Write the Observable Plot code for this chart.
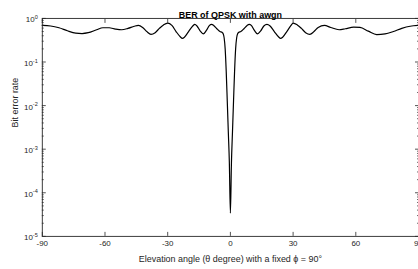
<!DOCTYPE html>
<html><head><meta charset="utf-8">
<script src="https://cdn.jsdelivr.net/npm/d3@7"></script>
<script src="https://cdn.jsdelivr.net/npm/@observablehq/plot@0.6"></script>
<style>html,body{margin:0;padding:0;overflow:hidden;background:#fff}</style>
</head><body><div id="chart"></div>
<script>
const title = "BER of QPSK with awgn";
const xLabel = "Elevation angle (θ degree) with a fixed ϕ = 90°";
const yLabel = "Bit error rate";
const xTicks = [-90, -60, -30, 0, 30, 60, 90];
const xTickLabels = ["-90", "-60", "-30", "0", "30", "60", "90"];
const yTicks = [1e-5, 1e-4, 1e-3, 1e-2, 1e-1, 1];
const yTickLabels = ["10^-5", "10^-4", "10^-3", "10^-2", "10^-1", "10^0"];

const theta = [
  -90, -86, -82, -78, -74, -71, -68, -64, -61, -58, -55, -52, -49, -46, -44, -42, -40, -38, -36, -34,
  -32, -30, -28, -26, -24, -23, -22, -20, -18, -17, -16, -14.5, -13, -11.5, -10, -9, -8, -6.5, -5, -4,
  -3.5, -3, -2.5, -2, -1.5, -1, -0.5, 0,
  0.5, 1, 1.5, 2, 2.5, 3, 3.5, 4, 5, 6.5, 8, 9, 10, 11.5, 13, 14.5, 16, 17.5, 19, 21,
  23, 24, 25, 27, 29, 30, 32, 34, 36, 38, 40, 42, 45, 48, 52, 55, 59, 62, 66, 70, 74, 78, 82, 86, 90
];
const ber = [
  0.69, 0.67, 0.61, 0.52, 0.46, 0.45, 0.47, 0.55, 0.61, 0.61, 0.57, 0.55, 0.59, 0.66, 0.69, 0.62, 0.50, 0.43, 0.47, 0.59,
  0.71, 0.78, 0.69, 0.50, 0.38, 0.35, 0.37, 0.50, 0.67, 0.73, 0.67, 0.52, 0.44, 0.53, 0.69, 0.73, 0.69, 0.58, 0.50, 0.48,
  0.45, 0.36, 0.20, 0.061, 0.0127, 0.0025, 0.00049, 0.000034,
  0.00049, 0.0025, 0.0127, 0.061, 0.20, 0.36, 0.45, 0.48, 0.50, 0.58, 0.69, 0.73, 0.69, 0.53, 0.44, 0.52, 0.67, 0.73, 0.67, 0.50,
  0.38, 0.35, 0.37, 0.50, 0.69, 0.78, 0.71, 0.59, 0.47, 0.43, 0.50, 0.62, 0.69, 0.62, 0.55, 0.58, 0.63, 0.62, 0.51, 0.425, 0.44, 0.50, 0.59, 0.66, 0.69
];

const data = theta.map((t, i) => ({theta: t, ber: ber[i]}));
const yMinor = d3.scaleLog().domain([1e-5, 1]).ticks()
  .filter(v => !yTicks.some(t => Math.abs(v - t) / t < 1e-9));

const ink = "#262626";
const font = "'Liberation Sans', Arial, Helvetica, sans-serif";

const plot = Plot.plot({
  width: 420, height: 269,
  marginLeft: 42, marginRight: 0, marginTop: 18, marginBottom: 32,
  style: {fontFamily: font, fontSize: "8px", color: ink, background: "#fff", overflow: "visible"},
  x: {domain: [-90, 90]},
  y: {type: "log", domain: [1e-5, 1]},
  marks: [
    Plot.line(data, {x: "theta", y: "ber", stroke: "#000", strokeWidth: 1.2, curve: "monotone-x"}),
    // ticks (inward)
    Plot.axisX(xTicks, {anchor: "bottom", tickSize: -4, tickFormat: () => "", label: null, stroke: ink, strokeWidth: 0.8}),
    Plot.axisX(xTicks, {anchor: "top", tickSize: -4, tickFormat: () => "", label: null, stroke: ink, strokeWidth: 0.8}),
    Plot.axisY(yTicks, {anchor: "left", tickSize: -4, tickFormat: () => "", label: null, stroke: ink, strokeWidth: 0.8}),
    Plot.axisY(yMinor, {anchor: "left", tickSize: -2, tickFormat: () => "", label: null, stroke: ink, strokeWidth: 0.7}),
    Plot.axisY(yTicks, {anchor: "right", tickSize: -4, tickFormat: () => "", label: null, stroke: ink, strokeWidth: 0.8}),
    Plot.axisY(yMinor, {anchor: "right", tickSize: -2, tickFormat: () => "", label: null, stroke: ink, strokeWidth: 0.7}),
    Plot.frame({stroke: ink, strokeWidth: 0.9}),
    // tick labels
    Plot.text(xTicks, {x: d => d, text: (d, i) => xTickLabels[i], frameAnchor: "bottom", dy: 9.4, fill: ink, fontSize: 8}),
    Plot.text(yTicks, {y: d => d, text: (d, i) => yTickLabels[i], frameAnchor: "left", dx: -4.5, dy: 1.5, textAnchor: "end", fill: ink, fontSize: 8}),
    // labels and title
    Plot.text([xLabel], {frameAnchor: "bottom", dy: 25.6, fill: ink, fontSize: 9}),
    Plot.text([yLabel], {frameAnchor: "left", dx: -27.6, rotate: -90, fill: ink, fontSize: 9}),
    Plot.text([title], {frameAnchor: "top", dy: -6.9, fill: "#000", fontSize: 9, fontWeight: "bold"})
  ]
});

// superscript exponents for the log tick labels
d3.select(plot).selectAll("text").each(function() {
  const m = /^10\^(.+)$/.exec(this.textContent);
  if (!m) return;
  const t = d3.select(this);
  t.text(null);
  t.append("tspan").text("10");
  t.append("tspan").attr("dy", -3.5).attr("font-size", 5.6).text(m[1]);
});

document.getElementById("chart").appendChild(plot);
</script>
</body></html>
